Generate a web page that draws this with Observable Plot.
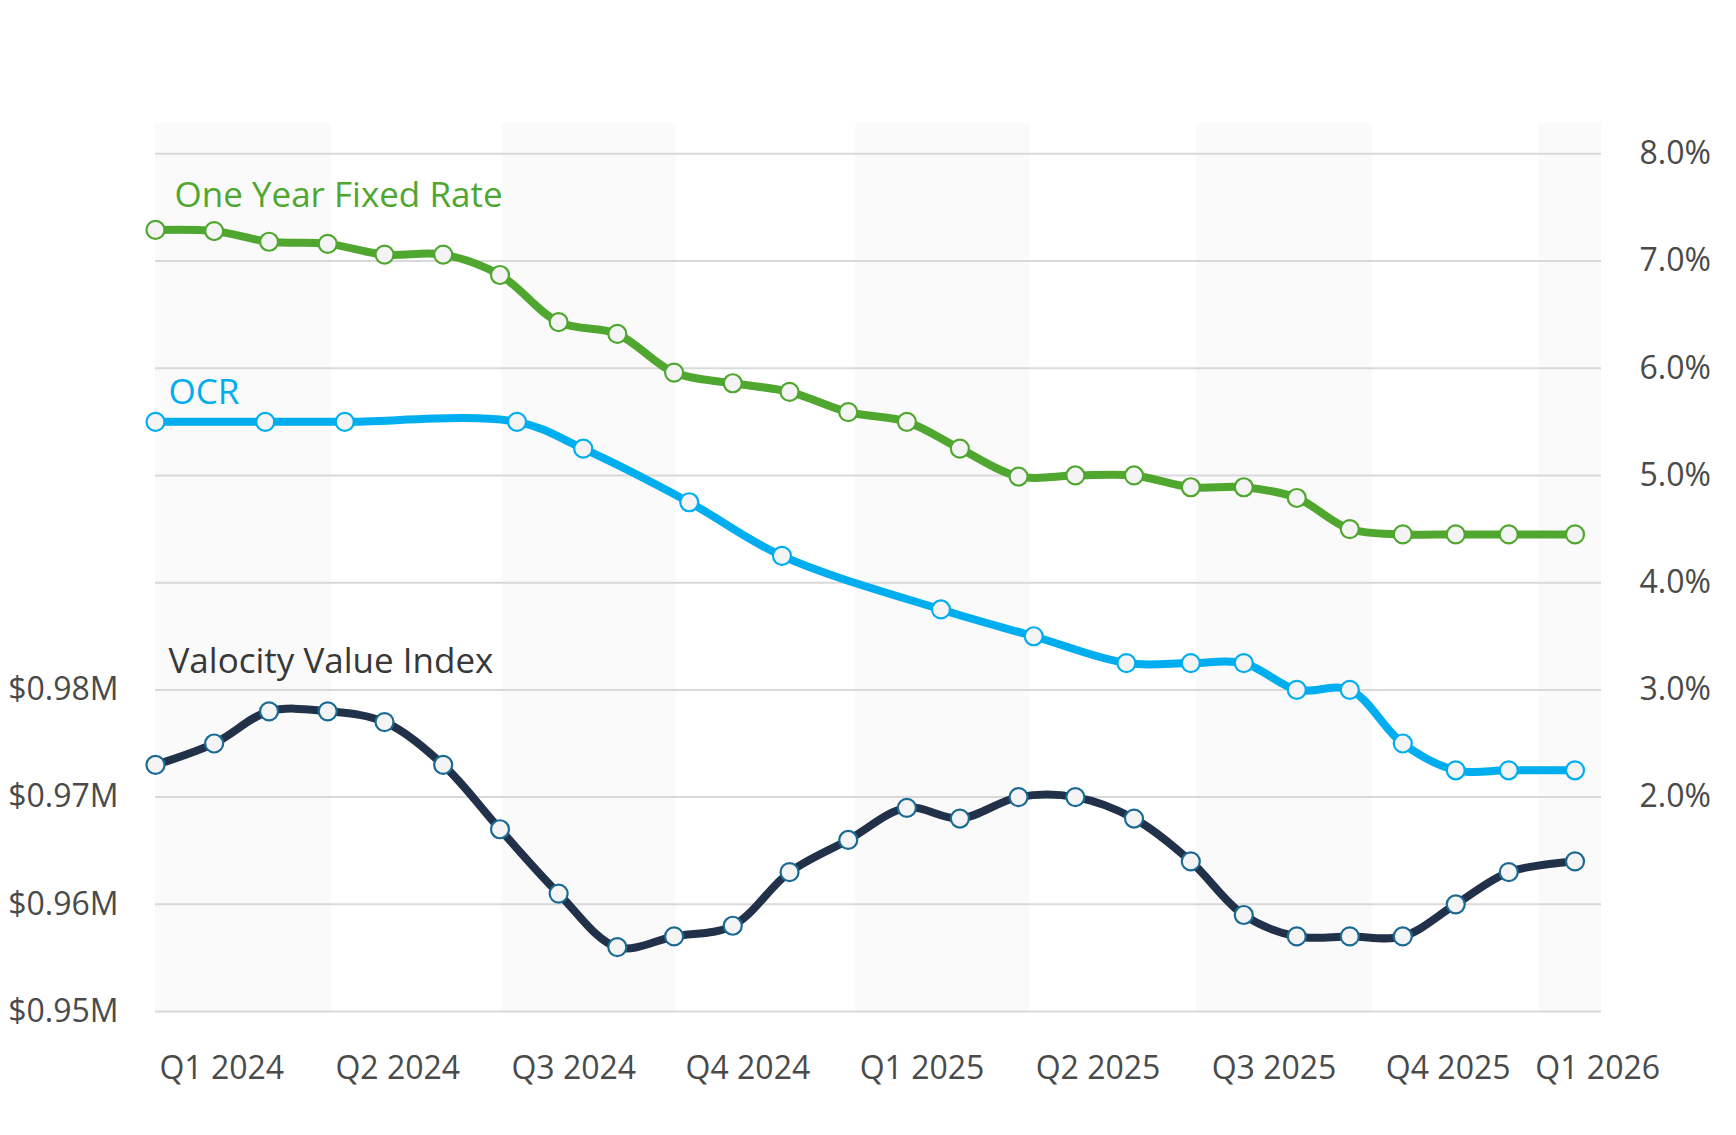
<!DOCTYPE html>
<html>
<head>
<meta charset="utf-8">
<script src="https://cdn.jsdelivr.net/npm/d3@7"></script>
<script src="https://cdn.jsdelivr.net/npm/@observablehq/plot@0.6"></script>
<style>
  html, body { margin: 0; padding: 0; background: #fff; overflow: hidden; }
  #chart svg { display: block; }
</style>
</head>
<body>
<div id="chart"></div>
<script>
// ---- data ----
const monthDates = [
  "2024-01-01","2024-02-01","2024-03-01","2024-04-01","2024-05-01","2024-06-01",
  "2024-07-01","2024-08-01","2024-09-01","2024-10-01","2024-11-01","2024-12-01",
  "2025-01-01","2025-02-01","2025-03-01","2025-04-01","2025-05-01","2025-06-01",
  "2025-07-01","2025-07-29","2025-08-26","2025-09-23","2025-10-21","2025-11-18",
  "2025-12-16","2026-01-20"
];
const fixedRate = [7.29, 7.28, 7.18, 7.16, 7.06, 7.06, 6.87, 6.43, 6.32, 5.96, 5.86, 5.78,
                   5.59, 5.50, 5.25, 4.99, 5.00, 5.00, 4.89, 4.89, 4.79, 4.50, 4.45, 4.45, 4.45, 4.45];
const valocityIndex = [0.973, 0.975, 0.978, 0.978, 0.977, 0.973, 0.967, 0.961, 0.956, 0.957, 0.958, 0.963,
                       0.966, 0.969, 0.968, 0.970, 0.970, 0.968, 0.964, 0.959, 0.957, 0.957, 0.957, 0.960, 0.963, 0.964];
const ocrDates = [
  "2024-01-01","2024-02-28","2024-04-10","2024-07-10","2024-08-14","2024-10-09",
  "2024-11-27","2025-02-19","2025-04-09","2025-05-28","2025-07-01","2025-07-29",
  "2025-08-26","2025-09-23","2025-10-21","2025-11-18","2025-12-16","2026-01-20"
];
const ocrValues = [5.5, 5.5, 5.5, 5.5, 5.25, 4.75, 4.25, 3.75, 3.5, 3.25, 3.25, 3.25, 3.0, 3.0, 2.5, 2.25, 2.25, 2.25];

const quarterLabels = ["Q1 2024","Q2 2024","Q3 2024","Q4 2024","Q1 2025","Q2 2025","Q3 2025","Q4 2025","Q1 2026"];
const quarterTickDates = ["2024-02-05","2024-05-08","2024-08-09","2024-11-09","2025-02-09","2025-05-13","2025-08-14","2025-11-14","2026-02-01"];
const shadedStarts = ["2024-01-01","2024-07-02","2025-01-05","2025-07-04","2026-01-01"];
const shadedEnds   = ["2024-04-03","2024-10-02","2025-04-07","2025-10-05","2026-04-01"];

const seriesNames = ["One Year Fixed Rate", "OCR", "Valocity Value Index"];
const gridTicks = [0, 1, 2, 3, 4, 5, 6, 7, 8];      // percent
const rightTicks = [2, 3, 4, 5, 6, 7, 8];            // percent
const leftTicks = [0.95, 0.96, 0.97, 0.98];          // $M
const xStart = "2024-01-01", xEnd = "2026-02-03";

// ---- build ----
const parse = d3.utcParse("%Y-%m-%d");
const x0 = parse(xStart), x1 = parse(xEnd);
const toPct = v => (v - leftTicks[0]) * 100;   // left axis: $0.95M = 0%, $0.01M = 1%

const rows = monthDates.map((d, i) => ({date: parse(d), fixed: fixedRate[i], vvi: toPct(valocityIndex[i])}));
const ocr = ocrDates.map((d, i) => ({date: parse(d), v: ocrValues[i]}));
const bands = shadedStarts.map((s, i) => ({a: parse(s), b: new Date(Math.min(+parse(shadedEnds[i]), +x1))}));
const labelDates = quarterTickDates.map(d => new Date(Math.min(+parse(d), +x1)));
const labelMap = new Map(labelDates.map((d, i) => [+d, quarterLabels[i]]));

const GREEN = "#4fa72f", BLUE = "#00aeef", NAVY = "#22314a", NAVY_MK = "#1b6a94";
const MK_FILL = "#f4f4f4", AXIS = "#4a4a4a";

const chart = Plot.plot({
  width: 1736,
  height: 1135,
  marginLeft: 155,
  marginRight: 135,
  marginTop: 123,
  marginBottom: 124,
  style: {fontFamily: "'Open Sans', sans-serif", background: "#fff", overflow: "visible"},
  x: {type: "utc", domain: [x0, x1]},
  y: {domain: [0, 8.283]},
  marks: [
    Plot.rect(bands, {x1: "a", x2: "b", fill: "#fafafa"}),
    Plot.ruleY(gridTicks, {stroke: "#d9d9d9", strokeWidth: 2}),
    Plot.axisY(leftTicks.map(toPct), {
      anchor: "left", tickSize: 0, tickPadding: 37, fontSize: 32, color: AXIS,
      tickFormat: d => "$" + (leftTicks[0] + d / 100).toFixed(2) + "M"
    }),
    Plot.axisY(rightTicks, {
      anchor: "right", tickSize: 0, tickPadding: 38, fontSize: 32, color: AXIS,
      tickFormat: d => d.toFixed(1) + "%"
    }),
    Plot.axisX(labelDates, {
      anchor: "bottom", tickSize: 0, tickPadding: 45, fontSize: 32, color: AXIS,
      tickFormat: d => labelMap.get(+d)
    }),
    // lines
    Plot.line(rows, {x: "date", y: "vvi", stroke: NAVY, strokeWidth: 8, curve: "catmull-rom"}),
    Plot.line(ocr, {x: "date", y: "v", stroke: BLUE, strokeWidth: 8, curve: "catmull-rom"}),
    Plot.line(rows, {x: "date", y: "fixed", stroke: GREEN, strokeWidth: 8, curve: "catmull-rom"}),
    // markers
    Plot.dot(rows, {x: "date", y: "vvi", r: 9, fill: MK_FILL, stroke: NAVY_MK, strokeWidth: 2.2}),
    Plot.dot(ocr, {x: "date", y: "v", r: 9, fill: MK_FILL, stroke: BLUE, strokeWidth: 2.2}),
    Plot.dot(rows, {x: "date", y: "fixed", r: 9, fill: MK_FILL, stroke: GREEN, strokeWidth: 2.2}),
    // series labels, attached to each series' first point
    Plot.text([rows[0]], {x: "date", y: "fixed", text: () => seriesNames[0], textAnchor: "start",
      lineAnchor: "top", dx: 19, dy: -48, fontSize: 35, fill: GREEN}),
    Plot.text([ocr[0]], {x: "date", y: "v", text: () => seriesNames[1], textAnchor: "start",
      lineAnchor: "top", dx: 13, dy: -43, fontSize: 35, fill: BLUE}),
    Plot.text([rows[0]], {x: "date", y: "vvi", text: () => seriesNames[2], textAnchor: "start",
      lineAnchor: "top", dx: 13, dy: -117, fontSize: 35, fill: "#383838"})
  ]
});
document.getElementById("chart").appendChild(chart);
</script>
</body>
</html>
